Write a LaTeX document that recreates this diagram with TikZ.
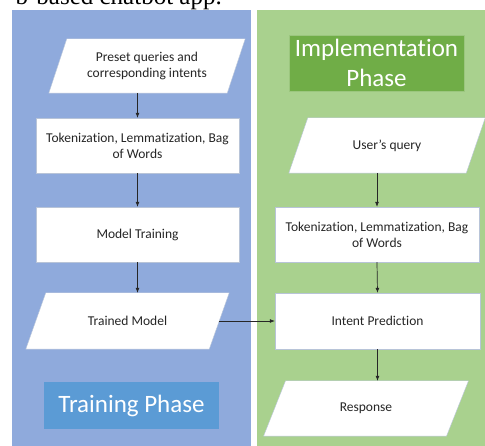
\documentclass[tikz,border=0pt]{standalone}
\usepackage{fontspec}
\setmainfont{Carlito}[Ligatures={NoCommon,NoRare}]
\newfontfamily\capfont{Liberation Serif}
\usetikzlibrary{arrows.meta}
\definecolor{panelblue}{HTML}{8FAADC}
\definecolor{panelgreen}{HTML}{A9D18E}
\definecolor{darkgreen}{HTML}{70AD47}
\definecolor{midblue}{HTML}{5B9BD5}
\definecolor{boxline}{HTML}{B8C4D8}
\pgfdeclarelayer{bg}
\pgfdeclarelayer{mid}
\pgfsetlayers{bg,mid,main}
\tikzset{
  boxtxt/.style={font=\fontsize{13.5}{16}\selectfont, align=center, inner sep=0pt, text=black!85},
  stepbox/.style={boxtxt, draw=boxline, line width=0.4pt, fill=white},
  parabox/.style={boxtxt, draw=none},
  parafill/.style={draw=boxline, line width=0.4pt, fill=white},
  titlebox/.style={font=\fontsize{25}{30}\selectfont, align=center, inner sep=0pt, text=white},
  arr/.style={draw=black!85, line width=0.7pt, -{Latex[length=5pt,width=4pt]}},
}
\begin{document}
\begin{tikzpicture}[x=1pt,y=-1pt]
\useasboundingbox (0,0) rectangle (485,446);
% caption fragment (cut off at the top, as in the reference)
\node[anchor=base east, inner sep=0pt, font=\capfont\fontsize{25}{28}\selectfont] (cap) at (222,5) {b-based chatbot app.};
% panels
\begin{pgfonlayer}{bg}
\fill[panelblue] (12,10) rectangle (251,446);
\fill[panelgreen] (257,10) rectangle (485,446);
\end{pgfonlayer}
% training column
\node[parabox, minimum width=178pt, minimum height=54pt] (pre) at (147,66) {Preset queries and\\corresponding intents};
\node[stepbox, minimum width=203pt, minimum height=55pt] (tokA) at (137.5,145.5) {Tokenization, Lemmatization, Bag\\of Words};
\node[stepbox, minimum width=203pt, minimum height=55pt] (mt) at (137.5,234.5) {Model Training};
\node[parabox, minimum width=183pt, minimum height=56pt] (trained) at (127.5,321) {Trained Model};
\node[titlebox, fill=midblue, minimum width=175pt, minimum height=47pt] (trainph) at (131.5,405.5) {Training Phase};
% implementation column
\node[titlebox, fill=darkgreen, draw=darkgreen!70!white, line width=0.4pt, minimum width=175pt, minimum height=56pt] (implph) at (376.5,63) {Implementation\\Phase};
\node[parabox, minimum width=177pt, minimum height=55pt] (user) at (387,145.5) {User’s query};
\node[stepbox, minimum width=204pt, minimum height=55pt] (tokB) at (377,234.5) {Tokenization, Lemmatization, Bag\\of Words};
\node[stepbox, minimum width=205pt, minimum height=56pt] (intent) at (377.5,321) {Intent Prediction};
\node[parabox, minimum width=182.5pt, minimum height=55pt] (resp) at (366,408.5) {Response};
% parallelogram outlines
\begin{pgfonlayer}{mid}
\foreach \n/\s in {pre/9, trained/10, user/9.5, resp/11} {
  \draw[parafill] ([xshift=\s pt]\n.north west) -- ([xshift=\s pt]\n.north east)
    -- ([xshift=-\s pt]\n.south east) -- ([xshift=-\s pt]\n.south west) -- cycle;
}
\end{pgfonlayer}
% connectors
\draw[arr] (pre.south -| tokA.north) -- (tokA.north);
\draw[arr] (tokA.south) -- (mt.north);
\draw[arr] (mt.south) -- (mt.south |- trained.north);
\draw[arr] (trained.east) -- (intent.west);
\draw[arr] (user.south -| tokB.north) -- (tokB.north);
\draw[arr] (tokB.south) -- (intent.north);
\draw[arr] (intent.south) -- (intent.south |- resp.north);
\end{tikzpicture}
\end{document}
